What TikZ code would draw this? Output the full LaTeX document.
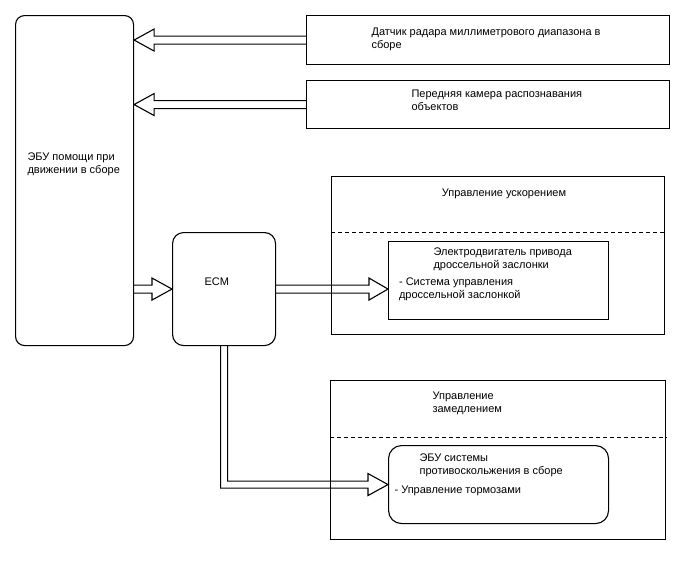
\documentclass[tikz,border=0pt]{standalone}
\usepackage{fontspec}
\setmainfont{Liberation Sans}
\usetikzlibrary{calc}
\begin{document}
\begin{tikzpicture}[x=1pt,y=-1pt, line width=1.1pt,
  box/.style={draw, rectangle, inner sep=0pt, anchor=north west},
  rbox/.style={box, rounded corners=9pt},
  txt/.style={anchor=base west, inner sep=0pt, font=\fontsize{11}{13}\selectfont},
  flex/.style={draw, line width=1.1pt, line join=miter},
  sep/.style={draw, line width=0.9pt, dash pattern=on 4pt off 3pt}]
\fill[white] (0,0) rectangle (688,560);
\useasboundingbox (0,0) rectangle (688,560);

% boxes
\node[rbox, minimum width=118pt, minimum height=330pt] (ecu) at (15,15) {};
\node[box, minimum width=363pt, minimum height=49pt] (radar) at (306,15) {};
\node[box, minimum width=363pt, minimum height=48pt] (camera) at (306,80) {};
\node[rbox, rounded corners=11pt, minimum width=103pt, minimum height=113pt] (ecm) at (172,232) {};
\node[box, minimum width=333pt, minimum height=158pt] (accel) at (331,176) {};
\node[box, minimum width=220pt, minimum height=78pt] (throttle) at (388,241) {};
\node[box, minimum width=335pt, minimum height=159pt] (decel) at (330,380) {};
\node[rbox, rounded corners=13pt, minimum width=220pt, minimum height=78pt] (abs) at (388,445) {};

% dashed separators
\coordinate (accsep) at (331,232);
\coordinate (decsep) at (330,437);
\draw[sep] (accsep) -- (accsep -| accel.east);
\draw[sep] (decsep) -- (decsep -| decel.east);

% texts
\node[txt] (ecu1) at (27,160.5) {ЭБУ помощи при};
\node[txt] (ecu2) at (27,173.5) {движении в сборе};
\node[txt] (radar1) at (371,35) {Датчик радара миллиметрового диапазона в};
\node[txt] (radar2) at (371,48) {сборе};
\node[txt] (cam1) at (411,97.5) {Передняя камера распознавания};
\node[txt] (cam2) at (411,110.5) {объектов};
\node[txt, anchor=base] (acct) at (504,196) {Управление ускорением};
\node[txt] (ecmt) at (204,285) {ECM};
\node[txt] (thr1) at (433,255) {Электродвигатель привода};
\node[txt] (thr2) at (433,268) {дроссельной заслонки};
\node[txt] (thr3) at (398.5,285.5) {- Система управления};
\node[txt] (thr4) at (398.5,298.5) {дроссельной заслонкой};
\node[txt] (dec1) at (432,399) {Управление};
\node[txt] (dec2) at (432,412) {замедлением};
\node[txt] (abs1) at (419,461) {ЭБУ системы};
\node[txt] (abs2) at (419,474) {противоскольжения в сборе};
\node[txt] (abs3) at (394,493) {- Управление тормозами};

% flex arrows
\draw[flex] ($(radar.west)+(0,-4)$) -- ($(ecu.east |- radar.west)+(20,-4)$) -- ++(0,-7)
  -- (ecu.east |- radar.west) -- ($(ecu.east |- radar.west)+(20,11)$) -- ++(0,-7)
  -- ($(radar.west)+(0,4)$);
\draw[flex] ($(camera.west)+(0,-4)$) -- ($(ecu.east |- camera.west)+(20,-4)$) -- ++(0,-7)
  -- (ecu.east |- camera.west) -- ($(ecu.east |- camera.west)+(20,11)$) -- ++(0,-7)
  -- ($(camera.west)+(0,4)$);
\draw[flex] ($(ecu.east |- ecm.west)+(0,-4)$) -- ($(ecm.west)+(-20,-4)$) -- ++(0,-7)
  -- (ecm.west) -- ($(ecm.west)+(-20,11)$) -- ++(0,-7)
  -- ($(ecu.east |- ecm.west)+(0,4)$);
\draw[flex] ($(ecm.east)+(0,-4)$) -- ($(throttle.west |- ecm.east)+(-19,-4)$) -- ++(0,-7)
  -- (throttle.west |- ecm.east) -- ($(throttle.west |- ecm.east)+(-19,11)$) -- ++(0,-7)
  -- ($(ecm.east)+(0,4)$);
\coordinate (bend) at (ecm.south |- abs.west);
\draw[flex] ($(ecm.south)+(-3.5,0)$) -- ($(bend)+(-3.5,3.5)$) -- ($(abs.west)+(-20,3.5)$) -- ++(0,7.5)
  -- (abs.west) -- ($(abs.west)+(-20,-11)$) -- ++(0,7.5)
  -- ($(bend)+(3.5,-3.5)$) -- ($(ecm.south)+(3.5,0)$);
\end{tikzpicture}
\end{document}
